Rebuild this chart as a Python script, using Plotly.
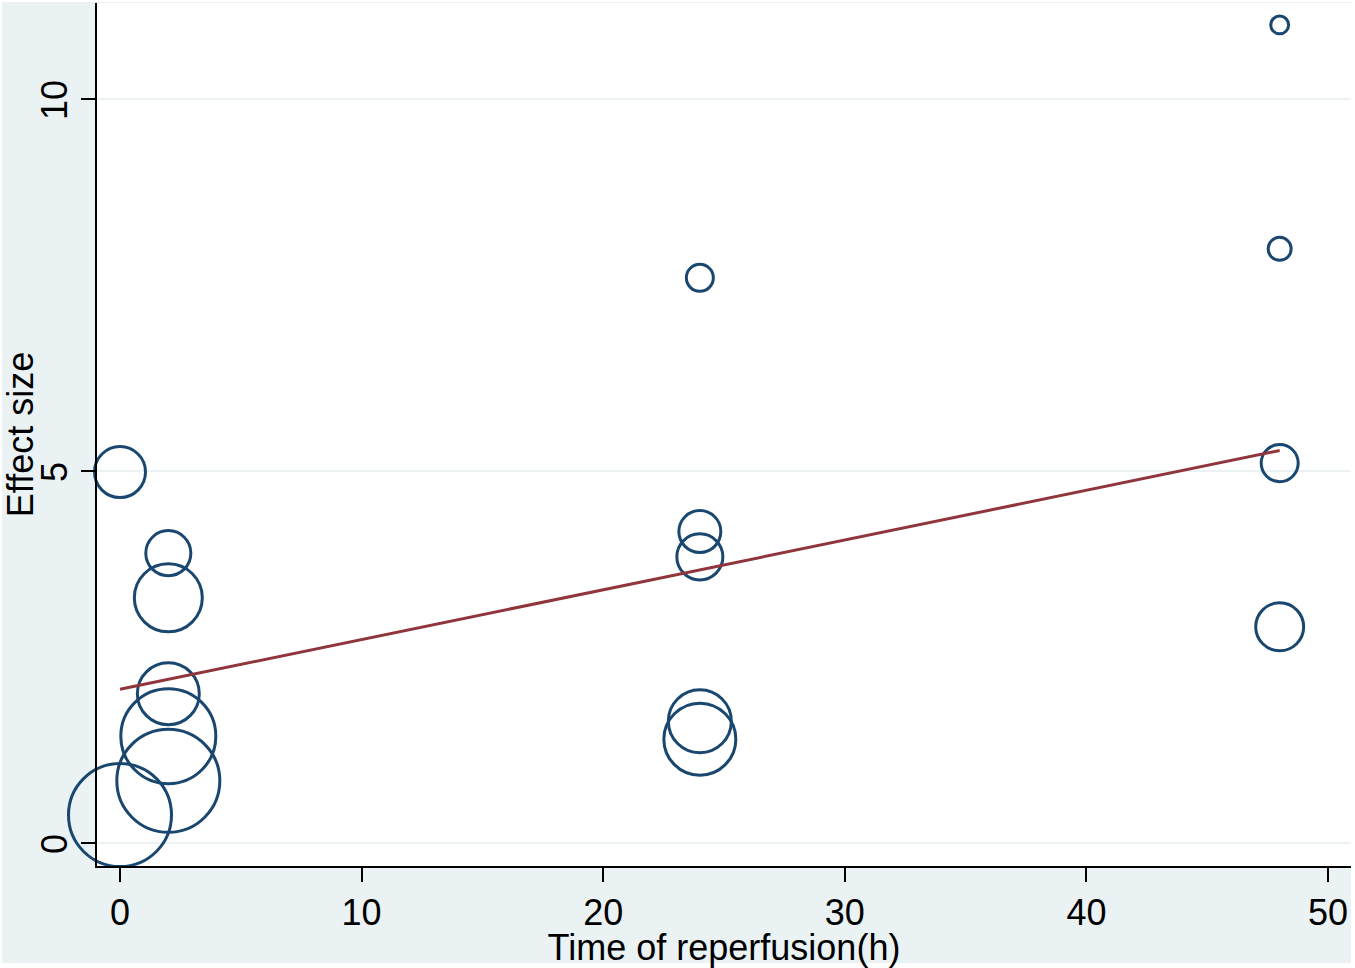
import math
import plotly.graph_objects as go

# ---- data ----
time_h = [0, 2, 2, 2, 2, 2, 0, 24, 24, 24, 24, 24, 48, 48, 48, 48]
effect = [4.99, 3.90, 3.30, 2.01, 1.44, 0.84, 0.38, 7.60, 4.19, 3.85, 1.64, 1.40,
          11.0, 7.99, 5.11, 2.91]
weight = [26.0, 20.3, 46.2, 38.4, 90.3, 106.1, 106.1, 7.3, 17.6, 21.2, 39.7, 51.8,
          3.2, 5.3, 13.7, 23.0]
fit_x = [0, 48]
fit_y = [2.07, 5.28]
x_ticks = [0, 10, 20, 30, 40, 50]
y_ticks = [0, 5, 10]
x_title = "Time of reperfusion(h)"
y_title = "Effect size"

# ---- styling ----
W, H = 1355, 968
ML, MR, MT, MB = 97, 4, 3, 102
PW, PH = W - ML - MR, H - MT - MB
BG = "#EAF2F3"
NAVY = "#1A476F"
MAROON = "#90353B"
FONT = "Liberation Sans, Arial, sans-serif"
FS = 36

sizes = [10 * math.sqrt(w) for w in weight]

fig = go.Figure()
fig.add_trace(go.Scatter(
    x=time_h, y=effect, mode="markers",
    marker=dict(size=sizes, sizemode="diameter", color="rgba(0,0,0,0)", opacity=1,
                line=dict(color=NAVY, width=3)),
    cliponaxis=False, showlegend=False, hoverinfo="x+y"))
fig.add_trace(go.Scatter(
    x=fit_x, y=fit_y, mode="lines",
    line=dict(color=MAROON, width=3), showlegend=False))

# background regions (outer light blue, plot white)
fig.add_shape(type="rect", xref="paper", yref="paper", layer="below",
              x0=(2 - ML) / PW, x1=1.0, y0=(H - MB - 963) / PH, y1=(H - MB - 2) / PH,
              fillcolor=BG, line=dict(width=0))
fig.add_shape(type="rect", xref="paper", yref="paper", layer="below",
              x0=0, x1=1, y0=0, y1=1, fillcolor="white", line=dict(width=0))

x0 = -23 / 24.16
y0 = -(866 - 843.3) / 74.4
fig.update_xaxes(range=[x0, x0 + PW / 24.16], tickvals=x_ticks,
                 showgrid=False, zeroline=False,
                 showline=True, linecolor="black", linewidth=2,
                 ticks="outside", ticklen=14, tickwidth=2, tickcolor="black",
                 tickfont=dict(family=FONT, size=FS, color="black"),
                 title=dict(text=x_title, font=dict(family=FONT, size=FS, color="black"),
                            standoff=1))
fig.update_yaxes(range=[y0, y0 + PH / 74.4], tickvals=y_ticks,
                 showgrid=True, gridcolor=BG, gridwidth=2, zeroline=False,
                 showline=True, linecolor="black", linewidth=2,
                 ticks="outside", ticklen=14, tickwidth=2, tickcolor="black",
                 tickangle=-90, ticklabelshift=6,
                 tickfont=dict(family=FONT, size=FS, color="black"),
                 title=dict(text=y_title, font=dict(family=FONT, size=FS, color="black"),
                            standoff=6))
fig.update_layout(width=W, height=H, margin=dict(l=ML, r=MR, t=MT, b=MB),
                  paper_bgcolor="white", plot_bgcolor="white",
                  font=dict(family=FONT, color="black"))
fig.write_html("out.html", config={"displayModeBar": False},
               post_script=["document.body.style.margin='0';document.body.style.overflow='hidden';"])
